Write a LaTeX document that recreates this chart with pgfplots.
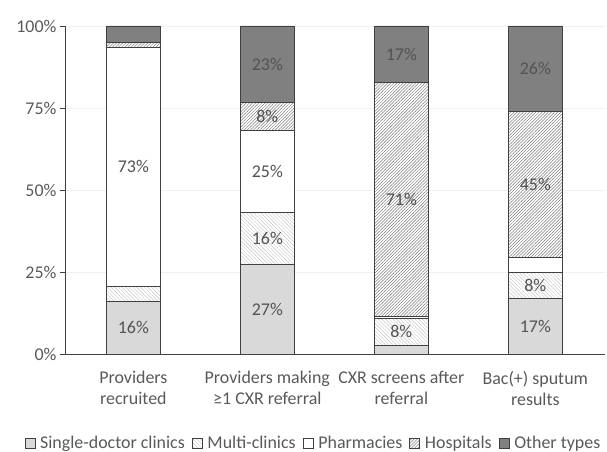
\documentclass[border=0pt]{standalone}
\usepackage{fontspec}
\setmainfont{Carlito}
\usepackage{pgfplots}
\pgfplotsset{compat=1.18}
\usetikzlibrary{patterns.meta}
\definecolor{edge}{RGB}{64,64,64}
\definecolor{txt}{RGB}{89,89,89}
\definecolor{single}{RGB}{217,217,217}
\definecolor{other}{RGB}{128,128,128}
\definecolor{gridc}{RGB}{240,240,240}
\begin{document}
\begin{tikzpicture}
\begin{axis}[
  name=ax,
  scale only axis,
  width=540bp, height=328bp,
  ybar stacked,
  bar width=54bp,
  xmin=-0.51, xmax=3.52,
  ymin=0, ymax=100,
  xtick=data,
  xticklabels={Providers\\recruited, Providers making\\≥1 CXR referral, CXR screens after\\referral, Bac(+) sputum\\results},
  xticklabel style={align=center, text=txt, font=\fontsize{18}{21}\selectfont, yshift=-9bp},
  ytick={0,25,50,75,100},
  yticklabel={\pgfmathprintnumber{\tick}\%},
  yticklabel style={text=txt, font=\fontsize{18}{21}\selectfont},
  /pgf/number format/assume math mode=true,
  axis x line*=bottom, axis y line*=left,
  x axis line style={-, draw=edge, line width=0.9bp},
  y axis line style={-, draw=edge, line width=0.9bp},
  major x tick style={draw=none},
  major y tick style={draw=edge, line width=0.9bp},
  tick align=outside,
  major tick length=5bp,
  ymajorgrids=true,
  grid style={draw=gridc, line width=0.8bp},
  every axis plot/.append style={draw=edge, line width=0.8bp},
  area legend,
  legend style={at={(0.46,-0.272)}, anchor=center, draw=none, fill=none,
    legend columns=5, font=\fontsize{18}{21}\selectfont, text=txt,
    inner xsep=0pt,
    /tikz/every odd column/.append style={column sep=3bp},
    /tikz/every even column/.append style={column sep=5bp}},
  legend image code/.code={\draw[#1, line width=0.6bp] (0bp,-5bp) rectangle (10bp,5bp);},
]
% Single-doctor clinics
\addplot[fill=single] coordinates {(0,16) (1,27.2) (2,2.7) (3,17)};
% Multi-clinics
\addplot[fill=white, postaction={pattern={Lines[angle=-45, distance=2.6bp, line width=0.45bp]}, pattern color=black!22}] coordinates {(0,4.6) (1,16) (2,8.2) (3,8)};
% Pharmacies
\addplot[fill=white] coordinates {(0,73) (1,25) (2,0.5) (3,4.3)};
% Hospitals
\addplot[fill=white, postaction={pattern={Lines[angle=45, distance=2.2bp, line width=0.5bp]}, pattern color=black!50}] coordinates {(0,1.4) (1,8.4) (2,71.4) (3,44.7)};
% Other types
\addplot[fill=other] coordinates {(0,5) (1,23.4) (2,17.2) (3,26)};
\legend{Single-doctor clinics, Multi-clinics, Pharmacies, Hospitals, Other types}
\end{axis}
\begin{axis}[
  scale only axis, at={(ax.south west)}, anchor=south west,
  width=540bp, height=328bp,
  xmin=-0.51, xmax=3.52, ymin=0, ymax=100,
  hide axis,
]
\addplot[draw=none, mark=none, nodes near coords, point meta=explicit symbolic,
  every node near coord/.append style={anchor=center, text=edge!90, font=\fontsize{18}{21}\selectfont}]
  coordinates {
  (0,8) [16\%] (0,57.1) [73\%]
  (1,13.6) [27\%] (1,35.2) [16\%] (1,55.7) [25\%] (1,72.4) [8\%] (1,88.3) [23\%]
  (2,6.8) [8\%] (2,47.1) [71\%] (2,91.4) [17\%]
  (3,8.5) [17\%] (3,21) [8\%] (3,51.6) [45\%] (3,87) [26\%]
  };
\end{axis}
\pgfresetboundingbox
\path[use as bounding box] ([xshift=-65bp,yshift=-98bp]ax.south west) rectangle ([xshift=2bp,yshift=26bp]ax.north east);
\end{tikzpicture}
\end{document}
